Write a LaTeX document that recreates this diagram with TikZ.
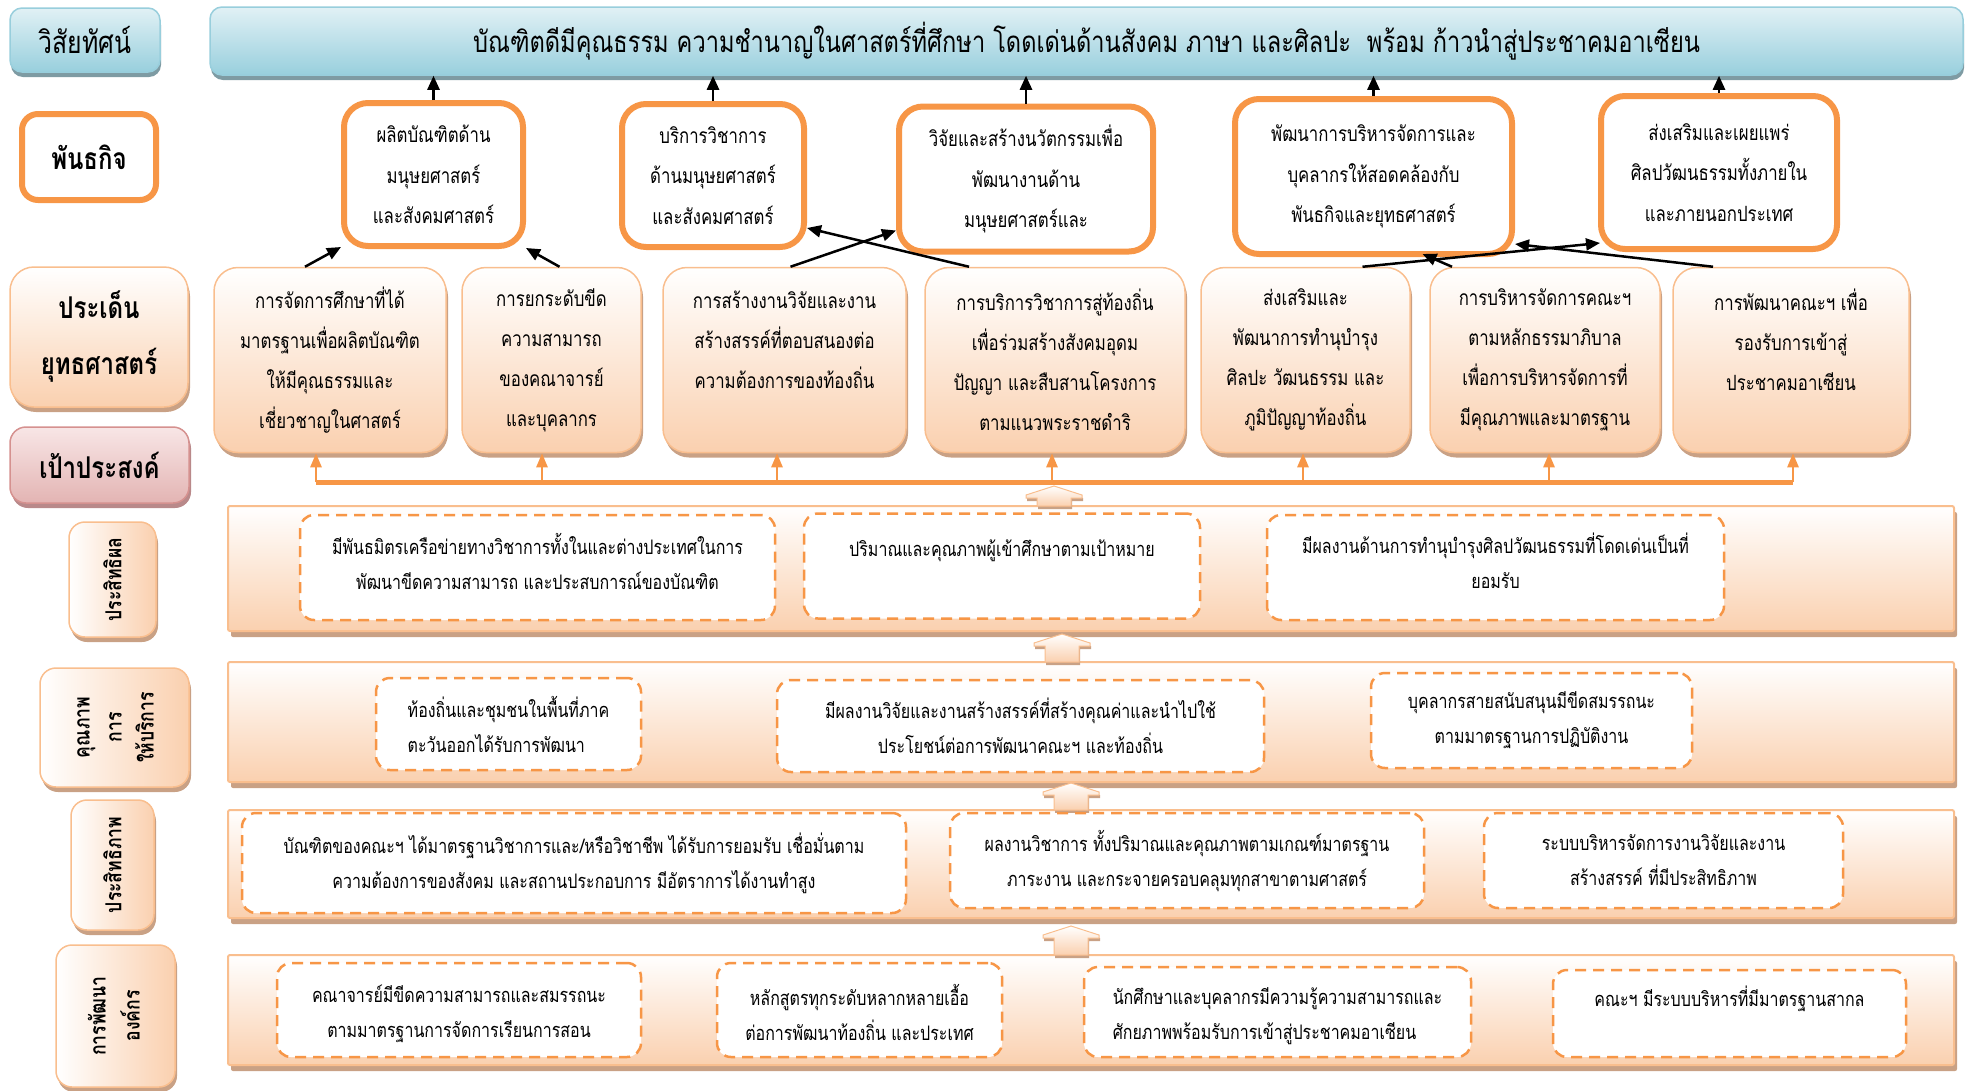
\documentclass[tikz,border=0pt]{standalone}
\usepackage{fontspec}
\newfontfamily\thai[Script=Thai,FakeStretch=0.8]{Loma}
\usetikzlibrary{arrows.meta,shadows,calc}
\definecolor{orng}{HTML}{F79646}
\definecolor{peach}{HTML}{FAD0AF}
\definecolor{peachb}{HTML}{F9BE8E}
\definecolor{shadc}{HTML}{C9A185}
\definecolor{bluetop}{HTML}{E1F1F5}
\definecolor{bluebot}{HTML}{98CFDD}
\definecolor{blueb}{HTML}{98CEDC}
\definecolor{blueshad}{HTML}{7E9BA3}
\definecolor{pinktop}{HTML}{F8E6E6}
\definecolor{pinkbot}{HTML}{E3B4B3}
\definecolor{pinkb}{HTML}{D5918F}
\definecolor{pinkshad}{HTML}{B9898A}
\newcommand\bkarr[3]{%
  \path[blockarr] (#1-17,#3) -- (#1-17,#2+12) -- (#1-28,#2+12) -- (#1-28,#2+9) -- (#1,#2)
    -- (#1+28,#2+9) -- (#1+28,#2+12) -- (#1+17,#2+12) -- (#1+17,#3) -- cycle;}
\begin{document}
\begin{tikzpicture}[x=1pt,y=-1pt,
  every node/.style={font=\thai, inner sep=0pt, align=center},
  visbox/.style={rounded corners=12pt, draw=blueb, line width=1.5pt, top color=bluetop, bottom color=bluebot,
    drop shadow={shadow xshift=1pt,shadow yshift=-5pt,fill=blueshad,opacity=1}},
  misslbl/.style={rounded corners=16pt, draw=orng, line width=6pt, fill=white,
    font={\thai\bfseries\fontsize{30}{36}\selectfont}},
  missbox/.style={rounded corners=24pt, draw=orng, line width=6pt, fill=white,
    font={\thai\fontsize{21}{40.5}\selectfont}},
  stratlbl/.style={rounded corners=24pt, draw=peachb, line width=1.5pt, top color=white, bottom color=peach,
    drop shadow={shadow xshift=2pt,shadow yshift=-5pt,fill=shadc,opacity=1}},
  stratbox/.style={stratlbl, font={\thai\fontsize{21}{40}\selectfont}},
  goallbl/.style={rounded corners=16pt, draw=pinkb, line width=1.5pt, top color=pinktop, bottom color=pinkbot,
    drop shadow={shadow xshift=2pt,shadow yshift=-5pt,fill=pinkshad,opacity=1},
    font={\thai\bfseries\fontsize{30}{36}\selectfont}},
  bigtxt/.style={font={\thai\bfseries\fontsize{30}{56}\selectfont}},
  perslbl/.style={rounded corners=16pt, draw=peachb, line width=1.5pt, left color=white, right color=peach,
    drop shadow={shadow xshift=2pt,shadow yshift=-5pt,fill=shadc,opacity=1},
    font={\thai\bfseries\fontsize{22}{36}\selectfont}},
  panel/.style={rounded corners=2pt, draw=peachb, line width=2pt, top color=white, bottom color=peach,
    drop shadow={shadow xshift=3pt,shadow yshift=-6pt,fill=shadc,opacity=1}},
  dbox/.style={rounded corners=14pt, draw=orng, line width=2.5pt, dash pattern=on 11pt off 7pt, fill=white,
    font={\thai\fontsize{20}{35}\selectfont}},
  blockarr/.style={draw=peachb, line width=1pt, top color=white, bottom color=peach,
    drop shadow={shadow xshift=1pt,shadow yshift=-3pt,fill=shadc,opacity=1}},
  blk/.style={line width=2.5pt, -{Triangle[length=14pt,width=12pt]}},
  obus/.style={draw=orng, line width=5pt},
  oarr/.style={draw=orng, line width=2.5pt, -{Triangle[length=14pt,width=11pt]}}
]
\useasboundingbox (0,0) rectangle (1968,1090);

% ---- left column labels
\node[visbox, minimum width=150pt, minimum height=64pt, font={\thai\fontsize{31}{36}\selectfont}] (lvis) at (85,40) {วิสัยทัศน์};
\node[misslbl, minimum width=134pt, minimum height=86pt] (lmis) at (89,157) {พันธกิจ};
\node[stratlbl, bigtxt, minimum width=178pt, minimum height=140pt] (lstr) at (99,337) {ประเด็น\\ยุทธศาสตร์};
\node[goallbl, minimum width=179pt, minimum height=76pt] (lgoal) at (99.5,465) {เป้าประสงค์};
\node[perslbl, minimum width=87pt, minimum height=115pt] (l1) at (112.5,579.5) {\rotatebox{90}{ประสิทธิผล}};
\node[perslbl, minimum width=149pt, minimum height=119pt] (l2) at (114.5,727.5)
  {\rotatebox{90}{\begin{tabular}{@{}c@{}}คุณภาพ\\[-4pt]การ\\[-4pt]ให้บริการ\end{tabular}}};
\node[perslbl, minimum width=83pt, minimum height=130pt] (l3) at (112.5,865) {\rotatebox{90}{ประสิทธิภาพ}};
\node[perslbl, minimum width=119pt, minimum height=142pt] (l4) at (115.5,1016)
  {\rotatebox{90}{\begin{tabular}{@{}c@{}}การพัฒนา\\[-2pt]องค์กร\end{tabular}}};

% ---- vision
\node[visbox, minimum width=1753pt, minimum height=68pt, font={\thai\fontsize{29.5}{36}\selectfont}] (vis) at (1086.5,41)
  {บัณฑิตดีมีคุณธรรม ความชำนาญในศาสตร์ที่ศึกษา โดดเด่นด้านสังคม ภาษา และศิลปะ~~พร้อม ก้าวนำสู่ประชาคมอาเซียน};

% ---- missions
\node[missbox, minimum width=179pt, minimum height=143pt] (m1) at (433.5,174.5) {ผลิตบัณฑิตด้าน\\มนุษยศาสตร์\\และสังคมศาสตร์};
\node[missbox, minimum width=182pt, minimum height=143pt] (m2) at (713,175.5) {บริการวิชาการ\\ด้านมนุษยศาสตร์\\และสังคมศาสตร์};
\node[missbox, minimum width=254pt, minimum height=145pt] (m3) at (1026,179) {วิจัยและสร้างนวัตกรรมเพื่อ\\พัฒนางานด้าน\\มนุษยศาสตร์และ};
\node[missbox, minimum width=277pt, minimum height=155pt] (m4) at (1373.5,176.5) {พัฒนาการบริหารจัดการและ\\บุคลากรให้สอดคล้องกับ\\พันธกิจและยุทธศาสตร์};
\node[missbox, minimum width=236pt, minimum height=153pt] (m5) at (1719,172.5) {ส่งเสริมและเผยแพร่\\ศิลปวัฒนธรรมทั้งภายใน\\และภายนอกประเทศ};

% ---- strategies
\node[stratbox, minimum width=232pt, minimum height=185pt] (s1) at (330,360) {การจัดการศึกษาที่ได้\\มาตรฐานเพื่อผลิตบัณฑิต\\ให้มีคุณธรรมและ\\เชี่ยวชาญในศาสตร์};
\node[stratbox, minimum width=179pt, minimum height=185pt] (s2) at (551.5,360) {การยกระดับขีด\\ความสามารถ\\ของคณาจารย์\\และบุคลากร};
\node[stratbox, minimum width=243pt, minimum height=185pt] (s3) at (784.5,360) {การสร้างงานวิจัยและงาน\\สร้างสรรค์ที่ตอบสนองต่อ\\ความต้องการของท้องถิ่น\\~};
\node[stratbox, minimum width=260pt, minimum height=185pt] (s4) at (1055,360) {การบริการวิชาการสู่ท้องถิ่น\\เพื่อร่วมสร้างสังคมอุดม\\ปัญญา และสืบสานโครงการ\\ตามแนวพระราชดำริ};
\node[stratbox, minimum width=209pt, minimum height=185pt] (s5) at (1305.5,360) {ส่งเสริมและ\\พัฒนาการทำนุบำรุง\\ศิลปะ วัฒนธรรม และ\\ภูมิปัญญาท้องถิ่น};
\node[stratbox, minimum width=230pt, minimum height=185pt] (s6) at (1545,360) {การบริหารจัดการคณะฯ\\ตามหลักธรรมาภิบาล\\เพื่อการบริหารจัดการที่\\มีคุณภาพและมาตรฐาน};
\node[stratbox, minimum width=236pt, minimum height=185pt] (s7) at (1791,360) {การพัฒนาคณะฯ เพื่อ\\รองรับการเข้าสู่\\ประชาคมอาเซียน\\~};

% ---- arrows mission -> vision
\foreach \m in {m1,m2,m3,m4,m5} \draw[blk] (\m.north) -- (\m.north |- vis.south);

% ---- arrows strategy -> mission
\draw[blk] ($(s1.north)+(-25,0)$) -- ($(m1.south west)+(0,-2)$);
\draw[blk] ($(s2.north)+(8,0)$) -- ($(m1.south east)+(0,-1)$);
\draw[blk] ($(s3.north)+(6,0)$) -- ($(m3.south west)+(0,-24)$);
\draw[blk] ($(s4.north)+(-86,0)$) -- ($(m2.south east)+(0,-22)$);
\draw[blk] ($(s5.north)+(57,0)$) -- ($(m5.south west)+(2,-9)$);
\draw[blk] ($(s6.north)+(-93,0)$) -- ($(m4.south)+(49,-3)$);
\draw[blk] ($(s7.north)+(-78,0)$) -- ($(m4.south east)+(0,-13)$);

% ---- panels
\node[panel, minimum width=1726pt, minimum height=125pt] (p1) at (1091,568.5) {};
\node[panel, minimum width=1726pt, minimum height=120pt] (p2) at (1091,722) {};
\node[panel, minimum width=1726pt, minimum height=108pt] (p3) at (1091,864) {};
\node[panel, minimum width=1726pt, minimum height=110pt] (p4) at (1091,1010) {};

% ---- orange bus and arrows to strategies
\coordinate (b1) at (316,482);
\coordinate (b2) at (542,482);
\coordinate (b3) at (777,482);
\coordinate (b4) at (1052,482);
\coordinate (b5) at (1303,482);
\coordinate (b6) at (1549,482);
\coordinate (b7) at (1793,482);
\bkarr{1054}{486}{506}
\draw[obus] (b1) -- (b7);
\foreach \i in {1,...,7} \draw[oarr] (b\i) -- (b\i |- s\i.south);

% ---- block arrows between rows
\bkarr{1062}{634}{662}
\bkarr{1071}{783}{810}
\bkarr{1071}{926}{955}

% ---- row 1
\node[dbox, minimum width=475pt, minimum height=105pt] (r1a) at (537.5,567.5) {มีพันธมิตรเครือข่ายทางวิชาการทั้งในและต่างประเทศในการ\\พัฒนาขีดความสามารถ และประสบการณ์ของบัณฑิต\\[-22pt]~};
\node[dbox, minimum width=396pt, minimum height=105pt] (r1b) at (1002,566) {ปริมาณและคุณภาพผู้เข้าศึกษาตามเป้าหมาย\\~};
\node[dbox, minimum width=457pt, minimum height=105pt] (r1c) at (1495.5,567.5) {มีผลงานด้านการทำนุบำรุงศิลปวัฒนธรรมที่โดดเด่นเป็นที่\\ยอมรับ\\[-22pt]~};
% ---- row 2
\node[dbox, minimum width=265pt, minimum height=92pt, align=left] (r2a) at (508.5,724) {ท้องถิ่นและชุมชนในพื้นที่ภาค\\ตะวันออกได้รับการพัฒนา};
\node[dbox, minimum width=487pt, minimum height=92pt] (r2b) at (1020.5,726) {มีผลงานวิจัยและงานสร้างสรรค์ที่สร้างคุณค่าและนำไปใช้\\ประโยชน์ต่อการพัฒนาคณะฯ และท้องถิ่น};
\node[dbox, minimum width=321pt, minimum height=95pt] (r2c) at (1531.5,720.5) {บุคลากรสายสนับสนุนมีขีดสมรรถนะ\\ตามมาตรฐานการปฏิบัติงาน};
% ---- row 3
\node[dbox, minimum width=664pt, minimum height=100pt] (r3a) at (574,863) {บัณฑิตของคณะฯ ได้มาตรฐานวิชาการและ/หรือวิชาชีพ ได้รับการยอมรับ เชื่อมั่นตาม\\ความต้องการของสังคม และสถานประกอบการ มีอัตราการได้งานทำสูง};
\node[dbox, minimum width=474pt, minimum height=95pt] (r3b) at (1187,860.5) {ผลงานวิชาการ ทั้งปริมาณและคุณภาพตามเกณฑ์มาตรฐาน\\ภาระงาน และกระจายครอบคลุมทุกสาขาตามศาสตร์};
\node[dbox, minimum width=359pt, minimum height=95pt] (r3c) at (1663.5,860.5) {ระบบบริหารจัดการงานวิจัยและงาน\\สร้างสรรค์ ที่มีประสิทธิภาพ};
% ---- row 4
\node[dbox, minimum width=364pt, minimum height=94pt] (r4a) at (459,1010) {\rule{0pt}{26pt}คณาจารย์มีขีดความสามารถและสมรรถนะ\\ตามมาตรฐานการจัดการเรียนการสอน};
\node[dbox, minimum width=285pt, minimum height=94pt] (r4b) at (859.5,1010) {\rule{0pt}{26pt}หลักสูตรทุกระดับหลากหลายเอื้อ\\ต่อการพัฒนาท้องถิ่น และประเทศ};
\node[dbox, minimum width=387pt, minimum height=90pt, align=left] (r4c) at (1277.5,1012) {\rule{0pt}{26pt}นักศึกษาและบุคลากรมีความรู้ความสามารถและ\\ศักยภาพพร้อมรับการเข้าสู่ประชาคมอาเซียน};
\node[dbox, minimum width=353pt, minimum height=87pt] (r4d) at (1729.5,1013.5) {คณะฯ มีระบบบริหารที่มีมาตรฐานสากล\\~};
\end{tikzpicture}
\end{document}
